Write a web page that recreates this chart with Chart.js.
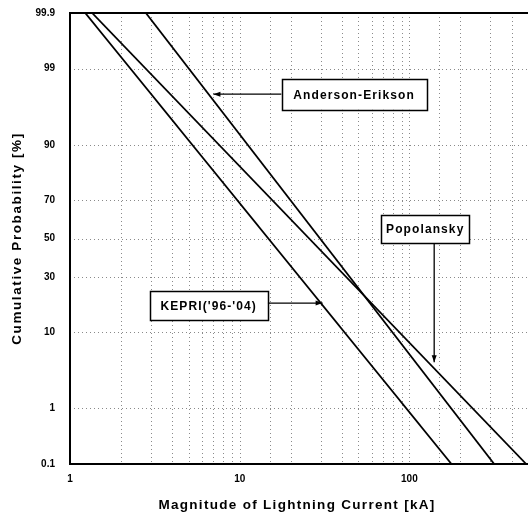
<!DOCTYPE html>
<html>
<head>
<meta charset="utf-8">
<script src="https://cdn.jsdelivr.net/npm/chart.js@4.4.1/dist/chart.umd.min.js"></script>
<style>
  html, body { margin: 0; padding: 0; background: #fff; }
  canvas { display: block; }
</style>
</head>
<body>
<canvas id="c" width="528" height="516"></canvas>
<script>
// ---------- data ----------
const seriesNames = ["KEPRI('96-'04)", "Popolansky", "Anderson-Erikson"];
// each straight line: current [kA] at 99.9 % and at 0.1 % cumulative probability
const kepriCurrent = [1.23, 177];
const kepriProb = [99.9, 0.1];
const popolanskyCurrent = [1.35, 488];
const popolanskyProb = [99.9, 0.1];
const andersonCurrent = [2.8, 316];
const andersonProb = [99.9, 0.1];

const yTickValues = [0.1, 1, 10, 30, 50, 70, 90, 99, 99.9];
const yTickLabels = ['0.1', '1', '10', '30', '50', '70', '90', '99', '99.9'];
const xTickLabels = [1, 10, 100];
const xTitle = 'Magnitude of Lightning Current [kA]';
const yTitle = 'Cumulative Probability [%]';

// callout labels: text, box centre (kA, %), arrow tip (kA, %), side the arrow leaves from
const calloutTexts = ['Anderson-Erikson', 'Popolansky', "KEPRI('96-'04)"];
const calloutCenterX = [47.2, 124, 6.57];
const calloutCenterY = [97.6, 55.2, 17.9];
const calloutTipX = [7.0, 140, 30.8];
const calloutTipY = [97.6, 4.5, 18.8];
const calloutSide = ['left', 'bottom', 'right'];
const calloutW = [145, 88, 118];
const calloutH = [31, 28, 29];

// ---------- normal probability helpers ----------
function probit(pct) {
  const p = pct / 100;
  const a=[-3.969683028665376e+01,2.209460984245205e+02,-2.759285104469687e+02,1.383577518672690e+02,-3.066479806614716e+01,2.506628277459239e+00];
  const b=[-5.447609879822406e+01,1.615858368580409e+02,-1.556989798598866e+02,6.680131188771972e+01,-1.328068155288572e+01];
  const c=[-7.784894002430293e-03,-3.223964580411365e-01,-2.400758277161838e+00,-2.549732539343734e+00,4.374664141464968e+00,2.938163982698783e+00];
  const d=[7.784695709041462e-03,3.224671290700398e-01,2.445134137142996e+00,3.754408661907416e+00];
  const pl = 0.02425, ph = 1 - pl;
  let q, r;
  if (p < pl) { q = Math.sqrt(-2*Math.log(p)); return (((((c[0]*q+c[1])*q+c[2])*q+c[3])*q+c[4])*q+c[5])/((((d[0]*q+d[1])*q+d[2])*q+d[3])*q+1); }
  if (p <= ph) { q = p-0.5; r = q*q; return (((((a[0]*r+a[1])*r+a[2])*r+a[3])*r+a[4])*r+a[5])*q/(((((b[0]*r+b[1])*r+b[2])*r+b[3])*r+b[4])*r+1); }
  q = Math.sqrt(-2*Math.log(1-p)); return -(((((c[0]*q+c[1])*q+c[2])*q+c[3])*q+c[4])*q+c[5])/((((d[0]*q+d[1])*q+d[2])*q+d[3])*q+1);
}
function normCdf(z) {
  const t = 1/(1+0.2316419*Math.abs(z));
  const dd = 0.3989423*Math.exp(-z*z/2);
  let pr = dd*t*(0.3193815+t*(-0.3565638+t*(1.781478+t*(-1.821256+t*1.330274))));
  return z > 0 ? 1 - pr : pr;
}

class ProbabilityScale extends Chart.Scale {
  determineDataLimits() {
    this.min = this.options.min;
    this.max = this.options.max;
  }
  buildTicks() { return yTickValues.map(v => ({ value: v })); }
  configure() {
    super.configure();
    this._zMin = probit(this.min);
    this._zMax = probit(this.max);
  }
  getLabelForValue(v) { return String(v); }
  getPixelForValue(v) {
    return this.getPixelForDecimal((probit(v) - this._zMin) / (this._zMax - this._zMin));
  }
  getValueForPixel(px) {
    const dec = this.getDecimalForPixel(px);
    return 100 * normCdf(this._zMin + dec * (this._zMax - this._zMin));
  }
}
ProbabilityScale.id = 'probability';
ProbabilityScale.defaults = {};
Chart.register(ProbabilityScale);

function pts(xs, ys) { return xs.map((x, i) => ({ x: x, y: ys[i] })); }

const FONT = "'Liberation Sans', Arial, sans-serif";

// dotted grid + axis frame
const gridPlugin = {
  id: 'gridPlugin',
  beforeDatasetsDraw(chart) {
    const { ctx, chartArea: ca, scales } = chart;
    ctx.save();
    ctx.strokeStyle = '#8a8a8a';
    ctx.lineWidth = 1;
    ctx.setLineDash([1, 3]);
    scales.x.ticks.forEach(t => {
      const px = Math.round(scales.x.getPixelForValue(t.value)) + 0.5;
      if (px <= ca.left + 2 || px >= ca.right - 1) return;
      ctx.beginPath(); ctx.moveTo(px, ca.top); ctx.lineTo(px, ca.bottom); ctx.stroke();
    });
    scales.y.ticks.forEach(t => {
      const py = Math.round(scales.y.getPixelForValue(t.value)) + 0.5;
      if (py <= ca.top + 2 || py >= ca.bottom - 2) return;
      ctx.beginPath(); ctx.moveTo(ca.left, py); ctx.lineTo(ca.right, py); ctx.stroke();
    });
    ctx.setLineDash([]);
    ctx.strokeStyle = '#000';
    ctx.lineWidth = 2;
    ctx.beginPath();
    ctx.moveTo(ca.right, ca.top); ctx.lineTo(ca.left, ca.top);
    ctx.lineTo(ca.left, ca.bottom); ctx.lineTo(ca.right, ca.bottom);
    ctx.stroke();
    ctx.restore();
  }
};

// axis titles (letter-spaced like the scanned original)
const titlePlugin = {
  id: 'titlePlugin',
  afterDraw(chart) {
    const { ctx, chartArea: ca } = chart;
    ctx.save();
    ctx.fillStyle = '#000';
    ctx.font = 'bold 13.5px ' + FONT;
    ctx.textAlign = 'center';
    ctx.textBaseline = 'middle';
    if ('letterSpacing' in ctx) ctx.letterSpacing = '1.3px';
    ctx.fillText(xTitle, (ca.left + ca.right) / 2 - 2, 505);
    if ('letterSpacing' in ctx) ctx.letterSpacing = '1.6px';
    ctx.translate(17, (ca.top + ca.bottom) / 2);
    ctx.rotate(-Math.PI / 2);
    ctx.fillText(yTitle, 0, 0);
    ctx.restore();
  }
};

// callout boxes with arrows
const calloutPlugin = {
  id: 'calloutPlugin',
  afterDatasetsDraw(chart) {
    const { ctx, scales } = chart;
    ctx.save();
    calloutTexts.forEach((txt, i) => {
      const cx = scales.x.getPixelForValue(calloutCenterX[i]);
      const cy = scales.y.getPixelForValue(calloutCenterY[i]);
      const tx = scales.x.getPixelForValue(calloutTipX[i]);
      const ty = scales.y.getPixelForValue(calloutTipY[i]);
      const w = calloutW[i], h = calloutH[i];
      const l = cx - w / 2, r = cx + w / 2, t = cy - h / 2, b = cy + h / 2;
      let sx, sy;
      if (calloutSide[i] === 'left') { sx = l; sy = ty; }
      else if (calloutSide[i] === 'right') { sx = r; sy = ty; }
      else { sx = tx; sy = b; }
      ctx.strokeStyle = '#000';
      ctx.fillStyle = '#000';
      ctx.lineWidth = 1.3;
      ctx.beginPath(); ctx.moveTo(sx, sy); ctx.lineTo(tx, ty); ctx.stroke();
      const ang = Math.atan2(ty - sy, tx - sx);
      const hl = 7, hw = 2.5;
      ctx.beginPath();
      ctx.moveTo(tx, ty);
      ctx.lineTo(tx - hl * Math.cos(ang) + hw * Math.sin(ang), ty - hl * Math.sin(ang) - hw * Math.cos(ang));
      ctx.lineTo(tx - hl * Math.cos(ang) - hw * Math.sin(ang), ty - hl * Math.sin(ang) + hw * Math.cos(ang));
      ctx.closePath(); ctx.fill();
      ctx.fillStyle = '#fff';
      ctx.fillRect(l, t, w, h);
      ctx.lineWidth = 1.5;
      ctx.strokeRect(Math.round(l) + 0.5, Math.round(t) + 0.5, Math.round(w), Math.round(h));
      ctx.fillStyle = '#000';
      ctx.font = 'bold 12px ' + FONT;
      if ('letterSpacing' in ctx) ctx.letterSpacing = '1.1px';
      ctx.textAlign = 'center';
      ctx.textBaseline = 'middle';
      ctx.fillText(txt, cx, cy + 1);
      if ('letterSpacing' in ctx) ctx.letterSpacing = '0px';
    });
    ctx.restore();
  }
};

new Chart(document.getElementById('c'), {
  type: 'line',
  data: {
    datasets: [
      { label: seriesNames[0], data: pts(kepriCurrent, kepriProb) },
      { label: seriesNames[1], data: pts(popolanskyCurrent, popolanskyProb) },
      { label: seriesNames[2], data: pts(andersonCurrent, andersonProb) }
    ].map(ds => Object.assign(ds, {
      borderColor: '#000', borderWidth: 1.8, pointRadius: 0, tension: 0, fill: false
    }))
  },
  options: {
    responsive: false,
    animation: false,
    devicePixelRatio: 1,
    events: [],
    layout: { padding: { top: 13, right: 0, left: 0, bottom: 0 } },
    plugins: { legend: { display: false }, tooltip: { enabled: false } },
    scales: {
      x: {
        type: 'logarithmic',
        min: 1, max: 500,
        border: { display: false },
        grid: { display: false, drawTicks: false },
        ticks: {
          autoSkip: false, maxRotation: 0, padding: 9,
          color: '#000',
          font: { family: FONT, size: 10, weight: 'bold' },
          callback: (v) => xTickLabels.includes(v) ? String(v) : ''
        },
        title: { display: false },
        afterFit: (s) => { s.height = 52; s.paddingLeft = 0; s.paddingRight = 0; }
      },
      y: {
        type: 'probability',
        min: 0.1, max: 99.9,
        position: 'left',
        border: { display: false },
        grid: { display: false, drawTicks: false },
        ticks: {
          autoSkip: false, padding: 15,
          color: '#000',
          font: { family: FONT, size: 10, weight: 'bold' },
          callback: (v, i) => yTickLabels[i]
        },
        title: { display: false },
        afterFit: (s) => { s.width = 70; s.paddingTop = 0; s.paddingBottom = 0; }
      }
    }
  },
  plugins: [gridPlugin, calloutPlugin, titlePlugin]
});
</script>
</body>
</html>
